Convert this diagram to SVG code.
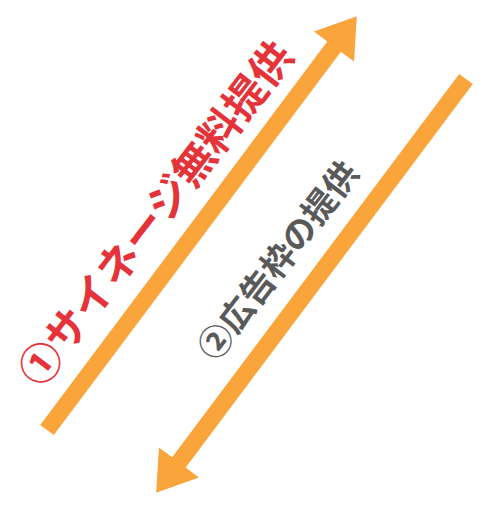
<svg xmlns="http://www.w3.org/2000/svg" width="488" height="510" viewBox="0 0 488 510">
<style>
.arrow{fill:#F9A53B}
.t{font-family:"Noto Sans CJK JP","Noto Sans",sans-serif;font-weight:bold;text-anchor:middle}
.t1{fill:#E5333A;font-size:42px}
.t2{fill:#595959;font-size:34px}
</style>
<defs>
<polygon id="arr" points="0,-8.5 479,-8.5 479,-25 517,0 479,25 479,8.5 0,8.5"/>
</defs>
<rect width="488" height="510" fill="#fff"/>
<g id="connectors">
<use href="#arr" class="arrow" transform="translate(47,430) rotate(-53.18)"/>
<use href="#arr" class="arrow" transform="translate(466,79) rotate(126.82)"/>
</g>
<g id="label1">
<text class="t t1" transform="translate(168,223) rotate(-52.5)">①サイネージ無料提供</text>
</g>
<g id="label2">
<text class="t t2" transform="translate(288,268) rotate(-52.5)">②広告枠の提供</text>
</g>
</svg>
